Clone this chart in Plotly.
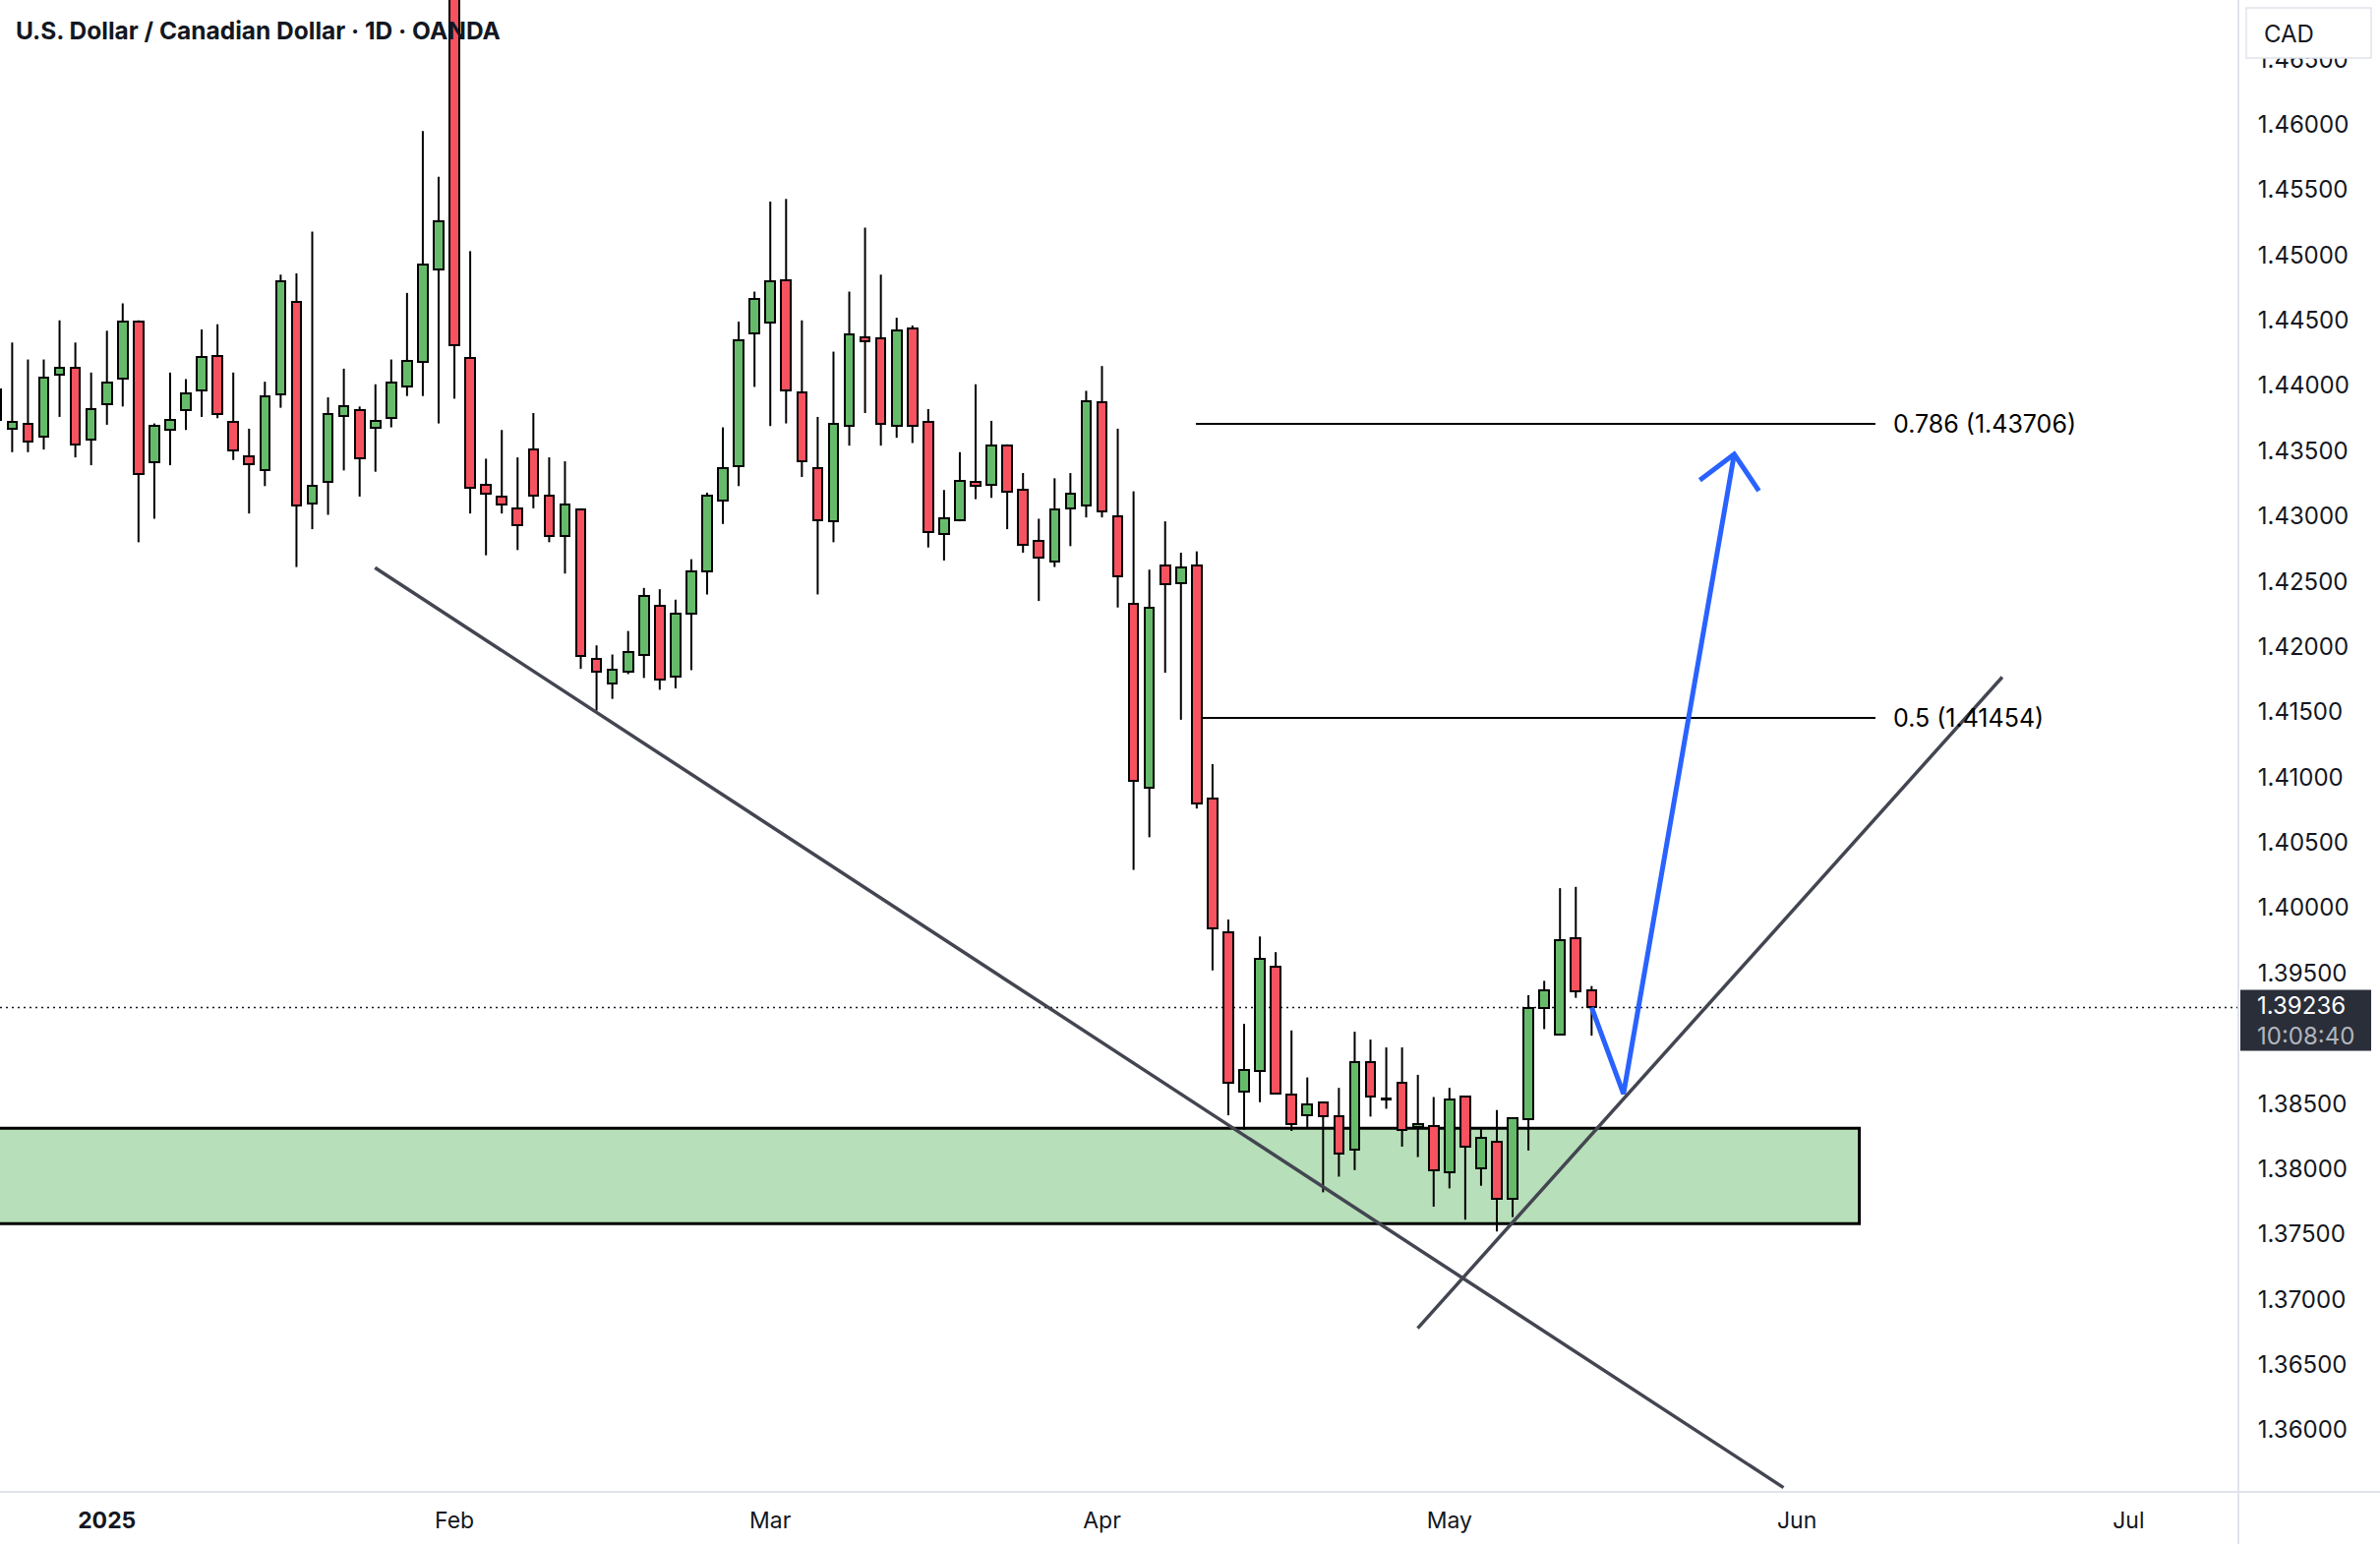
import plotly.graph_objects as go
import pandas as pd

# ---------------- data ----------------
first_bar = "2024-12-20"
last_axis_day = "2025-07-31"
holidays = ["2024-12-25", "2025-01-01"]

opens = [1.4397, 1.4367, 1.4371, 1.4361, 1.4408, 1.4414, 1.4359, 1.4386, 1.4405, 1.4449,
         1.4341, 1.4366, 1.4381, 1.4396, 1.4423, 1.4372, 1.4346, 1.4335, 1.4393, 1.4464,
         1.4310, 1.4326, 1.4377, 1.4381, 1.4368, 1.4375, 1.4399, 1.4418, 1.4489, 1.4732,
         1.4421, 1.4324, 1.4315, 1.4306, 1.4351, 1.4316, 1.4285, 1.4305, 1.4191, 1.4172,
         1.4181, 1.4194, 1.4231, 1.4177, 1.4225, 1.4258, 1.4312, 1.4338, 1.4440, 1.4448,
         1.4481, 1.4395, 1.4337, 1.4296, 1.4369, 1.4437, 1.4436, 1.4369, 1.4444, 1.4372,
         1.4286, 1.4297, 1.4326, 1.4324, 1.4354, 1.4320, 1.4281, 1.4265, 1.4306, 1.4308,
         1.4387, 1.4300, 1.4233, 1.4092, 1.4262, 1.4249, 1.4262, 1.4084, 1.3981, 1.3859,
         1.3875, 1.3955, 1.3857, 1.3841, 1.3851, 1.3840, 1.3815, 1.3882, 1.3854, 1.3866,
         1.3832, 1.3833, 1.3797, 1.3855, 1.3800, 1.3821, 1.3777, 1.3838, 1.3923, 1.3903,
         1.3977, 1.3937]
highs = [1.4405, 1.4433, 1.4420, 1.4420, 1.4450, 1.4433, 1.4410, 1.4442, 1.4463, 1.4450,
         1.4371, 1.4410, 1.4405, 1.4443, 1.4447, 1.4410, 1.4367, 1.4403, 1.4485, 1.4486,
         1.4518, 1.4391, 1.4413, 1.4384, 1.4401, 1.4420, 1.4471, 1.4595, 1.4560, 1.4793,
         1.4503, 1.4344, 1.4366, 1.4345, 1.4379, 1.4345, 1.4342, 1.4306, 1.4201, 1.4194,
         1.4212, 1.4245, 1.4244, 1.4236, 1.4267, 1.4318, 1.4368, 1.4449, 1.4472, 1.4541,
         1.4543, 1.4450, 1.4376, 1.4426, 1.4472, 1.4521, 1.4485, 1.4452, 1.4446, 1.4382,
         1.4320, 1.4349, 1.4401, 1.4373, 1.4355, 1.4333, 1.4298, 1.4329, 1.4333, 1.4396,
         1.4415, 1.4367, 1.4319, 1.4259, 1.4296, 1.4272, 1.4273, 1.4110, 1.3991, 1.3911,
         1.3978, 1.3966, 1.3906, 1.3870, 1.3851, 1.3862, 1.3905, 1.3899, 1.3893, 1.3893,
         1.3872, 1.3855, 1.3862, 1.3855, 1.3831, 1.3845, 1.3839, 1.3933, 1.3944, 1.4015,
         1.4016, 1.3940]
lows = [1.4364, 1.4349, 1.4349, 1.4351, 1.4376, 1.4345, 1.4339, 1.4370, 1.4384, 1.4280,
        1.4298, 1.4339, 1.4366, 1.4376, 1.4375, 1.4343, 1.4302, 1.4323, 1.4383, 1.4261,
        1.4290, 1.4301, 1.4335, 1.4315, 1.4334, 1.4368, 1.4392, 1.4392, 1.4371, 1.4390,
        1.4302, 1.4270, 1.4302, 1.4274, 1.4306, 1.4280, 1.4256, 1.4183, 1.4151, 1.4160,
        1.4179, 1.4176, 1.4167, 1.4168, 1.4182, 1.4240, 1.4294, 1.4323, 1.4399, 1.4369,
        1.4371, 1.4330, 1.4240, 1.4280, 1.4354, 1.4379, 1.4354, 1.4360, 1.4356, 1.4276,
        1.4266, 1.4296, 1.4313, 1.4314, 1.4290, 1.4272, 1.4235, 1.4261, 1.4277, 1.4299,
        1.4299, 1.4230, 1.4029, 1.4054, 1.4180, 1.4144, 1.4076, 1.3952, 1.3841, 1.3830,
        1.3851, 1.3857, 1.3829, 1.3832, 1.3782, 1.3794, 1.3799, 1.3840, 1.3846, 1.3817,
        1.3809, 1.3771, 1.3785, 1.3761, 1.3787, 1.3752, 1.3763, 1.3814, 1.3907, 1.3902,
        1.3931, 1.3902]
closes = [1.4374, 1.4372, 1.4357, 1.4406, 1.4414, 1.4355, 1.4382, 1.4402, 1.4449, 1.4332,
          1.4369, 1.4374, 1.4394, 1.4422, 1.4378, 1.4350, 1.4340, 1.4392, 1.4480, 1.4308,
          1.4323, 1.4378, 1.4384, 1.4344, 1.4373, 1.4402, 1.4419, 1.4493, 1.4526, 1.4431,
          1.4322, 1.4317, 1.4309, 1.4293, 1.4316, 1.4285, 1.4309, 1.4193, 1.4181, 1.4182,
          1.4196, 1.4239, 1.4175, 1.4225, 1.4258, 1.4316, 1.4337, 1.4435, 1.4466, 1.4480,
          1.4396, 1.4342, 1.4297, 1.4371, 1.4439, 1.4434, 1.4371, 1.4442, 1.4369, 1.4288,
          1.4298, 1.4327, 1.4323, 1.4354, 1.4319, 1.4278, 1.4268, 1.4305, 1.4317, 1.4388,
          1.4304, 1.4254, 1.4097, 1.4230, 1.4248, 1.4261, 1.4080, 1.3984, 1.3866, 1.3876,
          1.3961, 1.3858, 1.3834, 1.3849, 1.3840, 1.3812, 1.3882, 1.3855, 1.3853, 1.3830,
          1.3834, 1.3799, 1.3853, 1.3817, 1.3824, 1.3777, 1.3839, 1.3923, 1.3937, 1.3975,
          1.3936, 1.39236]

tick_dates = ["2025-01-02", "2025-02-03", "2025-03-03", "2025-04-01",
              "2025-05-01", "2025-06-02", "2025-07-01"]
tick_labels = ["<b>2025</b>", "Feb", "Mar", "Apr", "May", "Jun", "Jul"]

# price scale labels (1.39000 sits under the last-price label, so it is not shown)
price_ticks = [1.360, 1.365, 1.370, 1.375, 1.380, 1.385, 1.395, 1.400, 1.405,
               1.410, 1.415, 1.420, 1.425, 1.430, 1.435, 1.440, 1.445, 1.450,
               1.455, 1.460, 1.465]

title_text = "U.S. Dollar / Canadian Dollar · 1D · OANDA"
currency = "CAD"
last_price = 1.39236
countdown = "10:08:40"

# Fibonacci retracement (swing low / swing high)
fib_low, fib_high = 1.37517, 1.45391
fib_ratios = [0.5, 0.786]
fib_x = [75.95, 118.97]          # bar index span of the fib drawing
fib_label_x = 120.0

# Demand zone
zone_top, zone_bottom = 1.3831, 1.3758
zone_x_end = 117.95

# Trend lines (bar index, price)
down_line_x = [23.97, 113.15]
down_line_y = [1.42605, 1.35558]
up_line_x = [89.99, 127.0]
up_line_y = [1.36779, 1.41767]

# Projection path and arrow head
path_x = [101.0, 103.02, 110.03]
path_y = [1.39236, 1.38574, 1.43475]
head_x = [107.85, 110.03, 111.59]
head_y = [1.43275, 1.43475, 1.43194]

# ---------------- layout constants ----------------
W, H = 2420, 1570
M_L, M_R, M_T, M_B = 0, 144, 0, 53
PLOT_W = W - M_L - M_R
PLOT_H = H - M_T - M_B
X_RANGE = [0.23, 141.95]
Y_RANGE = [1.35525, 1.46954]
FONT = "Inter, Roboto, 'Open Sans', sans-serif"
TXT = "#131722"
UP = "#66bb6a"
DOWN = "#f7525f"

cal = pd.bdate_range(first_bar, last_axis_day)
cal = cal[~cal.isin(pd.to_datetime(holidays))]
xs = list(range(len(opens)))
tick_pos = [int(cal.get_loc(pd.Timestamp(d))) for d in tick_dates]

# ---------------- candles ----------------
body_base = [min(o, c) for o, c in zip(opens, closes)]
body_h = [max(abs(c - o), 0.00008) for o, c in zip(opens, closes)]
body_col = [UP if c > o else DOWN for o, c in zip(opens, closes)]

wx, wy = [], []
for x, o, h, l, c in zip(xs, opens, highs, lows, closes):
    top, bot = max(o, c), min(o, c)
    if h > top:
        wx += [x, x, None]
        wy += [top, h, None]
    if l < bot:
        wx += [x, x, None]
        wy += [l, bot, None]

fig = go.Figure()
fig.add_trace(go.Bar(
    x=xs, y=body_h, base=body_base, width=0.6,
    marker=dict(color=body_col, line=dict(color="black", width=2)),
    hoverinfo="skip", showlegend=False,
))
fig.add_trace(go.Scatter(
    x=wx, y=wy, mode="lines", line=dict(color="black", width=2),
    hoverinfo="skip", showlegend=False,
))

# projection arrow
fig.add_trace(go.Scatter(x=path_x, y=path_y, mode="lines",
                         line=dict(color="#2962ff", width=5),
                         hoverinfo="skip", showlegend=False))
fig.add_trace(go.Scatter(x=head_x, y=head_y, mode="lines",
                         line=dict(color="#2962ff", width=5),
                         hoverinfo="skip", showlegend=False))

shapes = []
# demand zone
shapes.append(dict(type="rect", xref="x", yref="y", x0=X_RANGE[0] - 10, x1=zone_x_end,
                   y0=zone_bottom, y1=zone_top, fillcolor="#b7dfb9",
                   line=dict(color="black", width=3), layer="below"))
# fib lines
for r in fib_ratios:
    lvl = fib_low + r * (fib_high - fib_low)
    shapes.append(dict(type="line", xref="x", yref="y", x0=fib_x[0], x1=fib_x[1],
                       y0=lvl, y1=lvl, line=dict(color="black", width=2), layer="below"))
# last price dotted line
shapes.append(dict(type="line", xref="paper", yref="y", x0=0, x1=1,
                   y0=last_price, y1=last_price,
                   line=dict(color=TXT, width=1.5, dash="2px,4px"), layer="below"))
# trend lines
shapes.append(dict(type="line", xref="x", yref="y", x0=down_line_x[0], x1=down_line_x[1],
                   y0=down_line_y[0], y1=down_line_y[1],
                   line=dict(color="#434651", width=3.5)))
shapes.append(dict(type="line", xref="x", yref="y", x0=up_line_x[0], x1=up_line_x[1],
                   y0=up_line_y[0], y1=up_line_y[1],
                   line=dict(color="#434651", width=3.5)))
# separators
shapes.append(dict(type="line", xref="paper", yref="paper", x0=1, x1=1,
                   y0=-M_B / PLOT_H, y1=1, line=dict(color="#e0e3eb", width=2)))
shapes.append(dict(type="line", xref="paper", yref="paper", x0=0, x1=W / PLOT_W,
                   y0=0, y1=0, line=dict(color="#e0e3eb", width=2)))

# price label box
ppu = PLOT_H / (Y_RANGE[1] - Y_RANGE[0])
shapes.append(dict(type="rect", xref="paper", yref="y",
                   x0=(PLOT_W + 2) / PLOT_W, x1=(PLOT_W + 135) / PLOT_W,
                   y0=last_price - 44 / ppu, y1=last_price + 18 / ppu,
                   fillcolor="#2a2e39", line=dict(width=0)))
# currency box
shapes.append(dict(type="rect", xref="paper", yref="paper",
                   x0=(PLOT_W + 8) / PLOT_W, x1=(PLOT_W + 135) / PLOT_W,
                   y0=(PLOT_H - 59) / PLOT_H, y1=(PLOT_H - 8) / PLOT_H,
                   fillcolor="white", line=dict(color="#e0e3eb", width=1.5)))

annotations = [
    dict(text=f"<b>{title_text}</b>", xref="paper", yref="paper", x=0, y=1,
         xanchor="left", yanchor="middle", xshift=14, yshift=-31, showarrow=False,
         font=dict(family=FONT, size=24.5, color=TXT)),
    dict(text=currency, xref="paper", yref="paper", x=(PLOT_W + 24) / PLOT_W,
         y=(PLOT_H - 34) / PLOT_H, xanchor="left", yanchor="middle", showarrow=False,
         font=dict(family=FONT, size=24, color=TXT)),
    dict(text=(f"{last_price:.5f}<br>"
               f"<span style='color:#b2b5be'>{countdown}</span>"),
         xref="paper", yref="y", x=(PLOT_W + 17) / PLOT_W,
         y=last_price, yshift=-14, xanchor="left", yanchor="middle", align="left",
         showarrow=False, font=dict(family=FONT, size=24, color="white")),
]
for r in fib_ratios:
    lvl = fib_low + r * (fib_high - fib_low)
    annotations.append(dict(text=f"{r:g} ({lvl:.5f})", xref="x", yref="y", x=fib_label_x,
                            y=lvl, xanchor="left", yanchor="middle", showarrow=False,
                            font=dict(family=FONT, size=25, color="black")))

fig.update_layout(
    width=W, height=H,
    margin=dict(l=M_L, r=M_R, t=M_T, b=M_B, pad=0),
    paper_bgcolor="white", plot_bgcolor="white",
    showlegend=False, bargap=0,
    shapes=shapes, annotations=annotations,
    xaxis=dict(range=X_RANGE, type="linear", showgrid=False, zeroline=False,
               showline=False, tickvals=tick_pos, ticktext=tick_labels,
               ticks="outside", ticklen=8, tickcolor="rgba(0,0,0,0)",
               tickfont=dict(family=FONT, size=23, color=TXT), fixedrange=True),
    yaxis=dict(range=Y_RANGE, side="right", showgrid=False, zeroline=False,
               showline=False, tickvals=price_ticks, tickformat=".5f",
               ticks="outside", ticklen=14, tickcolor="rgba(0,0,0,0)",
               tickfont=dict(family=FONT, size=24, color=TXT), fixedrange=True),
)

fig.write_html("out.html")
